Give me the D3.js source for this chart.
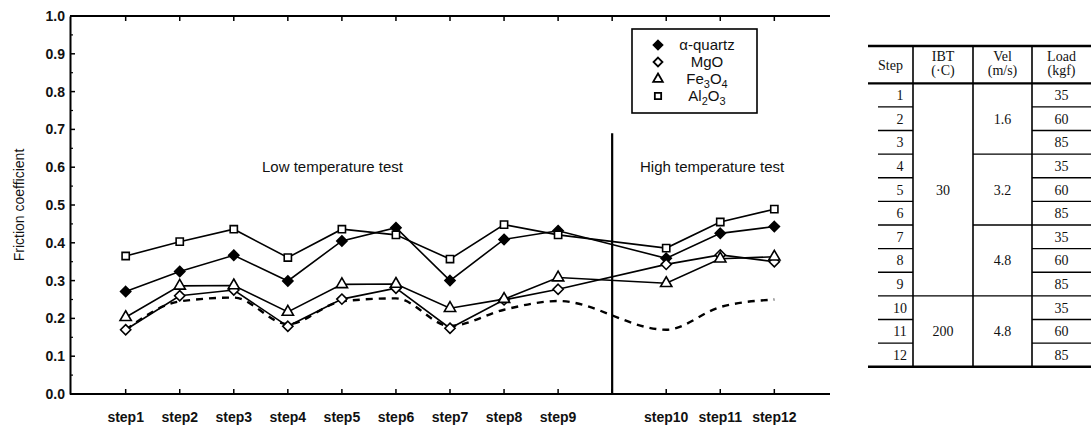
<!DOCTYPE html>
<html>
<head>
<meta charset="utf-8">
<script src="https://cdn.jsdelivr.net/npm/d3@7"></script>
<style>
  body { margin: 0; background: #fff; }
  svg text { fill: #111; }
</style>
</head>
<body>
<svg id="chart" width="1091" height="429"></svg>
<script>
// x categories (a blank slot sits between step9 and step10 for the divider)
const steps = ['step1', 'step2', 'step3', 'step4', 'step5', 'step6', 'step7', 'step8', 'step9', 'gap', 'step10', 'step11', 'step12'];
const stepNames = steps.filter(d => d !== 'gap');

// friction coefficient, one value per step
const quartz = [0.271, 0.324, 0.367, 0.299, 0.405, 0.440, 0.300, 0.409, 0.432, 0.359, 0.425, 0.443];
const mgo = [0.170, 0.260, 0.275, 0.179, 0.251, 0.280, 0.174, 0.249, 0.277, 0.343, 0.368, 0.350];
const fe3o4 = [0.203, 0.286, 0.287, 0.217, 0.290, 0.291, 0.227, 0.251, 0.308, 0.293, 0.358, 0.363];
const al2o3 = [0.365, 0.403, 0.436, 0.361, 0.436, 0.421, 0.357, 0.448, 0.421, 0.386, 0.455, 0.489];
const dashed = [0.170, 0.245, 0.255, 0.185, 0.245, 0.253, 0.180, 0.223, 0.246, 0.170, 0.230, 0.250];

const yTicks = d3.range(0, 11).map(d => d / 10);

// test conditions table
const tableHead = [['Step'], ['IBT', '(·C)'], ['Vel', '(m/s)'], ['Load', '(kgf)']];
const tableSteps = d3.range(1, 13);
const ibtGroups = [{ label: '30', n: 9 }, { label: '200', n: 3 }];
const velGroups = [{ label: '1.6', n: 3 }, { label: '3.2', n: 3 }, { label: '4.8', n: 3 }, { label: '4.8', n: 3 }];
const loads = [35, 60, 85, 35, 60, 85, 35, 60, 85, 35, 60, 85];

const series = [
  { name: 'α-quartz', values: quartz, symbol: 'diamond', filled: true },
  { name: 'MgO', values: mgo, symbol: 'diamond', filled: false },
  { name: 'Fe3O4', values: fe3o4, symbol: 'triangle', filled: false },
  { name: 'Al2O3', values: al2o3, symbol: 'square', filled: false }
];

const svg = d3.select('#chart');
const font = 'Liberation Sans, Arial, sans-serif';
const margin = { top: 16, left: 70, right: 830, bottom: 394 };

const x = d3.scalePoint(steps, [margin.left, margin.right]).padding(1.03);
const y = d3.scaleLinear([0, 1], [margin.bottom, margin.top]);

// square rotated 45 degrees, same width as height
const squareDiamond = {
  draw(ctx, size) {
    const r = Math.sqrt(size / 2);
    ctx.moveTo(0, -r);
    ctx.lineTo(r, 0);
    ctx.lineTo(0, r);
    ctx.lineTo(-r, 0);
    ctx.closePath();
  }
};
const symbolTypes = { diamond: squareDiamond, triangle: d3.symbolTriangle, square: d3.symbolSquare };
const symbolSize = { diamond: 52, triangle: 55, square: 52 };

const plot = svg.append('g');

// frame lines with small inward ticks
[0, 1].forEach(v => plot.append('line')
  .attr('x1', margin.left).attr('x2', margin.right)
  .attr('y1', y(v)).attr('y2', y(v))
  .attr('stroke', '#000').attr('stroke-width', 2));
plot.selectAll('.xtick')
  .data(steps)
  .join('line')
  .attr('class', 'xtick')
  .attr('x1', d => x(d)).attr('x2', d => x(d))
  .attr('y1', y(0)).attr('y2', y(0) - 5)
  .attr('stroke', '#000').attr('stroke-width', 1.5);
plot.selectAll('.ttick')
  .data(steps)
  .join('line')
  .attr('class', 'ttick')
  .attr('x1', d => x(d)).attr('x2', d => x(d))
  .attr('y1', y(1)).attr('y2', y(1) + 5)
  .attr('stroke', '#000').attr('stroke-width', 1.5);
plot.selectAll('.xlabel')
  .data(stepNames)
  .join('text')
  .attr('class', 'xlabel')
  .attr('x', d => x(d))
  .attr('y', 422)
  .attr('text-anchor', 'middle')
  .attr('font-family', font)
  .attr('font-size', 14)
  .attr('font-weight', 'bold')
  .text(d => d);

// left axis, inward ticks with half-step minors
const yAxis = d3.axisLeft(y).tickValues(yTicks).tickSize(0).tickPadding(5).tickFormat(d3.format('.1f'));
const yg = plot.append('g').attr('transform', `translate(${margin.left},0)`).call(yAxis);
yg.select('.domain').attr('stroke-width', 2);
yg.selectAll('text').attr('font-family', font).attr('font-size', 14).attr('font-weight', 'bold').attr('fill', '#111');
plot.selectAll('.ymajor')
  .data(yTicks)
  .join('line')
  .attr('x1', margin.left).attr('x2', margin.left + 5)
  .attr('y1', d => y(d)).attr('y2', d => y(d))
  .attr('stroke', '#000').attr('stroke-width', 1.5);
plot.selectAll('.yminor')
  .data(yTicks.slice(1).map(d => d - 0.05))
  .join('line')
  .attr('x1', margin.left).attr('x2', margin.left + 3)
  .attr('y1', d => y(d)).attr('y2', d => y(d))
  .attr('stroke', '#000').attr('stroke-width', 1.2);

plot.append('text')
  .attr('transform', `translate(20,${(y(0) + y(1)) / 2}) rotate(-90)`)
  .attr('text-anchor', 'middle')
  .attr('dominant-baseline', 'middle')
  .attr('font-family', font)
  .attr('font-size', 14)
  .text('Friction coefficient');

// divider between low and high temperature tests
plot.append('line')
  .attr('x1', x('gap')).attr('x2', x('gap'))
  .attr('y1', y(0.69)).attr('y2', y(0))
  .attr('stroke', '#000').attr('stroke-width', 2.2);
plot.append('text')
  .attr('x', 262).attr('y', y(0.6) + 5)
  .attr('font-family', font).attr('font-size', 15)
  .text('Low temperature test');
plot.append('text')
  .attr('x', 640).attr('y', y(0.6) + 5)
  .attr('font-family', font).attr('font-size', 15)
  .text('High temperature test');

// dashed reference curve
plot.append('path')
  .datum(dashed)
  .attr('fill', 'none')
  .attr('stroke', '#000')
  .attr('stroke-width', 2.4)
  .attr('stroke-dasharray', '7,6')
  .attr('d', d3.line().x((d, i) => x(stepNames[i])).y(d => y(d)).curve(d3.curveMonotoneX));

const line = d3.line().x((d, i) => x(stepNames[i])).y(d => y(d));

series.forEach(s => {
  plot.append('path')
    .datum(s.values)
    .attr('fill', 'none')
    .attr('stroke', '#000')
    .attr('stroke-width', 1.6)
    .attr('d', line);
});
series.forEach(s => {
  plot.append('g').selectAll('path')
    .data(s.values)
    .join('path')
    .attr('transform', (d, i) => `translate(${x(stepNames[i])},${y(d)})`)
    .attr('d', d3.symbol(symbolTypes[s.symbol], symbolSize[s.symbol])())
    .attr('fill', s.filled ? '#000' : '#fff')
    .attr('stroke', '#000')
    .attr('stroke-width', 1.6);
});

// legend
const legend = svg.append('g');
legend.append('rect')
  .attr('x', 632).attr('y', 29).attr('width', 125).attr('height', 84)
  .attr('fill', '#fff').attr('stroke', '#000').attr('stroke-width', 1.6);
const legendRow = d3.scalePoint(series.map(s => s.name), [45, 96]);
const legItems = legend.selectAll('.leg')
  .data(series)
  .join('g')
  .attr('transform', d => `translate(0,${legendRow(d.name)})`);
legItems.append('path')
  .attr('transform', 'translate(658,0)')
  .attr('d', d => d3.symbol(symbolTypes[d.symbol], 40)())
  .attr('fill', d => d.filled ? '#000' : '#fff')
  .attr('stroke', '#000').attr('stroke-width', 1.8);
legItems.append('text')
  .attr('x', 707).attr('y', 5)
  .attr('text-anchor', 'middle')
  .attr('font-family', font).attr('font-size', 15)
  .each(function (d) {
    const t = d3.select(this);
    if (d.name === 'α-quartz') { t.text(d.name); return; }
    d.name.match(/[A-Za-z]+|\d+/g).forEach((p, k) => {
      const isNum = /^\d+$/.test(p);
      t.append('tspan')
        .attr('dy', isNum ? 4 : (k ? -4 : 0))
        .attr('font-size', isNum ? 11 : 15)
        .text(p);
    });
  });

// table
const table = svg.append('g');
const cols = [868, 913, 973, 1032, 1091];
const headTop = 46, headBottom = 83.3;
const row = d3.scaleBand(tableSteps, [headBottom, 366.7]);
const hline = (x1, x2, yy, w) => table.append('line')
  .attr('x1', x1).attr('x2', x2).attr('y1', yy).attr('y2', yy)
  .attr('stroke', '#000').attr('stroke-width', w);
const tfont = 'Liberation Serif, Times New Roman, serif';

hline(cols[0], cols[4], headTop, 2.4);
hline(cols[0], cols[4], headBottom, 2.2);
hline(cols[0], cols[4], row.range()[1], 2.6);
cols.slice(1, 4).forEach(cx => table.append('line')
  .attr('x1', cx).attr('x2', cx).attr('y1', headTop).attr('y2', row.range()[1])
  .attr('stroke', '#000').attr('stroke-width', 1.6));

tableHead.forEach((h, i) => {
  const cx = (cols[i] + cols[i + 1]) / 2;
  h.forEach((ln, j) => table.append('text')
    .attr('x', cx)
    .attr('y', h.length === 1 ? (headTop + headBottom) / 2 + 5 : headTop + 15 + j * 14)
    .attr('text-anchor', 'middle')
    .attr('font-family', tfont).attr('font-size', 14)
    .text(ln));
});

// step and load columns, one ruled row per step
tableSteps.forEach((s, i) => {
  if (i < tableSteps.length - 1) {
    hline(cols[0] + 10, cols[1], row(s) + row.bandwidth(), 1.4);
    hline(cols[3], cols[4], row(s) + row.bandwidth(), 1.4);
  }
  table.append('text')
    .attr('x', cols[0] + 32).attr('y', row(s) + row.bandwidth() / 2 + 5)
    .attr('text-anchor', 'middle')
    .attr('font-family', tfont).attr('font-size', 14)
    .text(s);
  table.append('text')
    .attr('x', (cols[3] + cols[4]) / 2).attr('y', row(s) + row.bandwidth() / 2 + 5)
    .attr('text-anchor', 'middle')
    .attr('font-family', tfont).attr('font-size', 14)
    .text(loads[i]);
});

// merged cells for IBT and Vel
[[ibtGroups, 1], [velGroups, 2]].forEach(([groups, c]) => {
  let start = 0;
  groups.forEach((g, gi) => {
    const y0 = row(tableSteps[start]);
    const y1 = row(tableSteps[start + g.n - 1]) + row.bandwidth();
    if (gi < groups.length - 1) hline(cols[c], cols[c + 1], y1, 1.4);
    table.append('text')
      .attr('x', (cols[c] + cols[c + 1]) / 2).attr('y', (y0 + y1) / 2 + 5)
      .attr('text-anchor', 'middle')
      .attr('font-family', tfont).attr('font-size', 14)
      .text(g.label);
    start += g.n;
  });
});
</script>
</body>
</html>
